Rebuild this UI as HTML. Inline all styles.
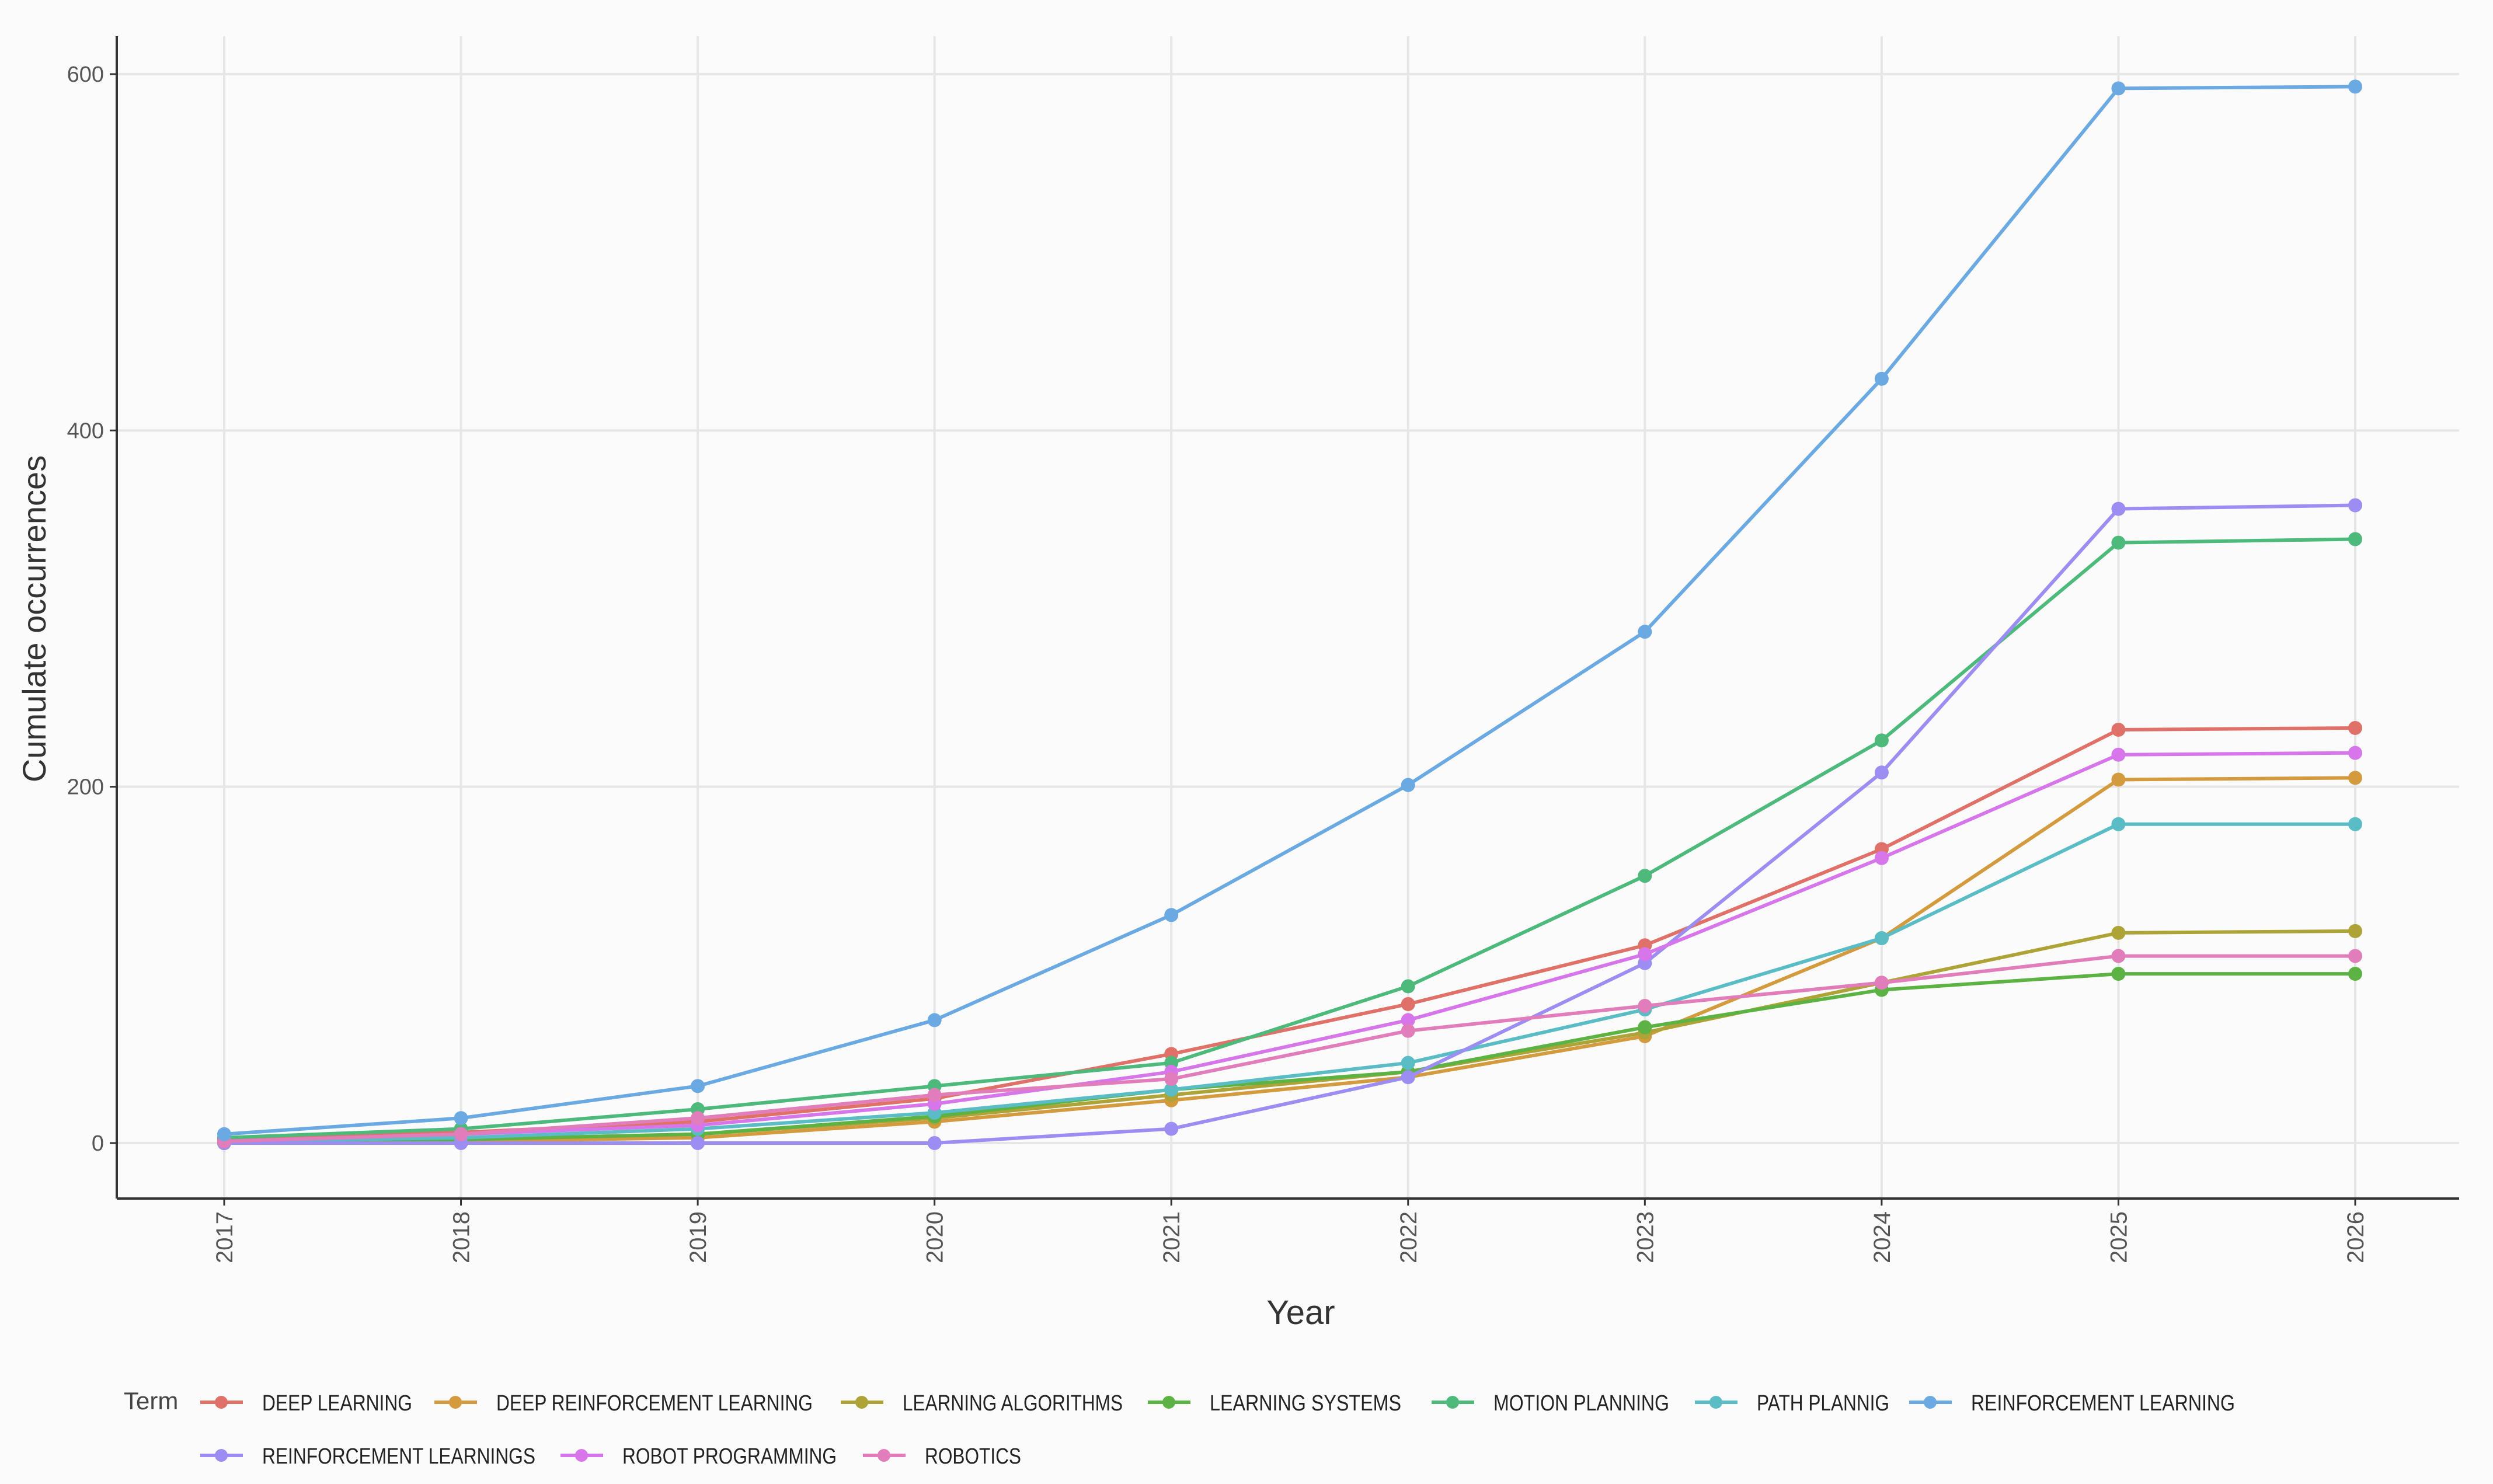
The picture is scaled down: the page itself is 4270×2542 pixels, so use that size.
<!DOCTYPE html>
<html><head><meta charset="utf-8"><style>
html,body{margin:0;padding:0;background:#fbfbfb;}
svg{display:block;font-family:"Liberation Sans",sans-serif;}
</style></head><body>
<svg id="chart" width="4270" height="2542" viewBox="0 0 4270 2542">
<rect x="0" y="0" width="4270" height="2542" fill="#fbfbfb"/>
<g id="grid"></g>
<g id="axes"></g>
<g id="series"></g>
<g id="legend"></g>
</svg>
<script>
const years = [2017,2018,2019,2020,2021,2022,2023,2024,2025,2026];
const yTicks = [0,200,400,600];
const terms = ["DEEP LEARNING","DEEP REINFORCEMENT LEARNING","LEARNING ALGORITHMS","LEARNING SYSTEMS","MOTION PLANNING","PATH PLANNIG","REINFORCEMENT LEARNING","REINFORCEMENT LEARNINGS","ROBOT PROGRAMMING","ROBOTICS"];
const colors = ["#E07168","#D39A3E","#ADA336","#5CB243","#4DBA7C","#5ABDC6","#6AA9E2","#9C8DF2","#D676EA","#E27DBB"];
const deepLearning = [2,6,12,25,50,78,111,165,232,233];
const deepRL = [0,1,3,12,24,37,60,115,204,205];
const learningAlgorithms = [0,2,5,14,27,40,62,90,118,119];
const learningSystems = [0,2,5,15,30,40,65,86,95,95];
const motionPlanning = [3,8,19,32,45,88,150,226,337,339];
const pathPlannig = [1,3,8,17,30,45,75,115,179,179];
const reinforcementLearning = [5,14,32,69,128,201,287,429,592,593];
const reinforcementLearnings = [0,0,0,0,8,37,101,208,356,358];
const robotProgramming = [1,5,10,22,40,69,106,160,218,219];
const robotics = [1,5,14,27,36,63,77,90,105,105];
const seriesValues = [deepLearning,deepRL,learningAlgorithms,learningSystems,motionPlanning,pathPlannig,reinforcementLearning,reinforcementLearnings,robotProgramming,robotics];
const drawOrder = [0,1,2,3,4,5,7,8,9,6];

const NS="http://www.w3.org/2000/svg";
const L=200,R=4212,T=62,B=2053;
const X=y=>384+(y-2017)*(4034-384)/9;
const Y=v=>1958-v*(1958-127)/600;
function mk(tag,attrs,parent,text){const e=document.createElementNS(NS,tag);for(const k in attrs)e.setAttribute(k,attrs[k]);if(text!==undefined)e.textContent=text;parent.appendChild(e);return e;}
const grid=document.getElementById('grid'),axes=document.getElementById('axes'),ser=document.getElementById('series'),leg=document.getElementById('legend');

yTicks.forEach(t=>{
  const g=mk('line',{x1:L,x2:R,y1:Y(t),y2:Y(t),stroke:'#e6e6e6','stroke-width':4},grid);
  
  
  const lb=mk('text',{x:L-22,y:Y(t)+13,'text-anchor':'end','font-size':38,fill:'#555'},axes,String(t));
  
  
  const tk=mk('line',{x1:L-12,x2:L,y1:Y(t),y2:Y(t),stroke:'#333','stroke-width':3},axes);
  
  
});
years.forEach(y=>{
  const g=mk('line',{x1:X(y),x2:X(y),y1:T,y2:B,stroke:'#e6e6e6','stroke-width':4},grid);
  
  
  const tk=mk('line',{x1:X(y),x2:X(y),y1:B,y2:B+12,stroke:'#333','stroke-width':3},axes);
  
  
  const lb=mk('text',{x:0,y:0,'text-anchor':'end','font-size':40,fill:'#555',transform:`translate(${X(y)+14},${B+22}) rotate(-90)`},axes,String(y));
  
  
});
const ax1=mk('line',{x1:L,x2:L,y1:T,y2:B,stroke:'#333','stroke-width':4},axes);


const ax2=mk('line',{x1:L,x2:R,y1:B,y2:B,stroke:'#333','stroke-width':4},axes);


const yt=mk('text',{x:0,y:0,'text-anchor':'middle','font-size':56,fill:'#333',transform:'translate(78,1060) rotate(-90)'},axes,'Cumulate occurrences');


const xt=mk('text',{x:2228,y:2268,'text-anchor':'middle','font-size':58,fill:'#333'},axes,'Year');



drawOrder.forEach(i=>{
  const vals=seriesValues[i];
  const g=mk('g',{},ser);
  
  
  const pl=mk('polyline',{points:vals.map((v,j)=>X(years[j])+','+Y(v)).join(' '),fill:'none',stroke:colors[i],'stroke-width':6,'stroke-linejoin':'round'},g);
  
  
  vals.forEach((v,j)=>{
    const c=mk('circle',{cx:X(years[j]),cy:Y(v),r:12,fill:colors[i]},g);
    
    
  });
});

const term=mk('text',{x:212,y:2414,'font-size':42,fill:'#444'},leg,'Term');


const legLineX=[343,744,1440,1966,2452,2903,3270,343,960,1478];
const legTextW=[257,542,377,328,301,227,452,468,367,165];
terms.forEach((t,i)=>{
  const row=i<7?2402:2493;
  const g=mk('g',{},leg);
  
  
  mk('line',{x1:legLineX[i],x2:legLineX[i]+73,y1:row,y2:row,stroke:colors[i],'stroke-width':6},g);
  mk('circle',{cx:legLineX[i]+36,cy:row,r:11,fill:colors[i]},g);
  const tx=mk('text',{x:legLineX[i]+106,y:row+14,'font-size':38,fill:'#222',textLength:legTextW[i],lengthAdjust:'spacingAndGlyphs'},g,t);
  
  
});
</script>
</body></html>
